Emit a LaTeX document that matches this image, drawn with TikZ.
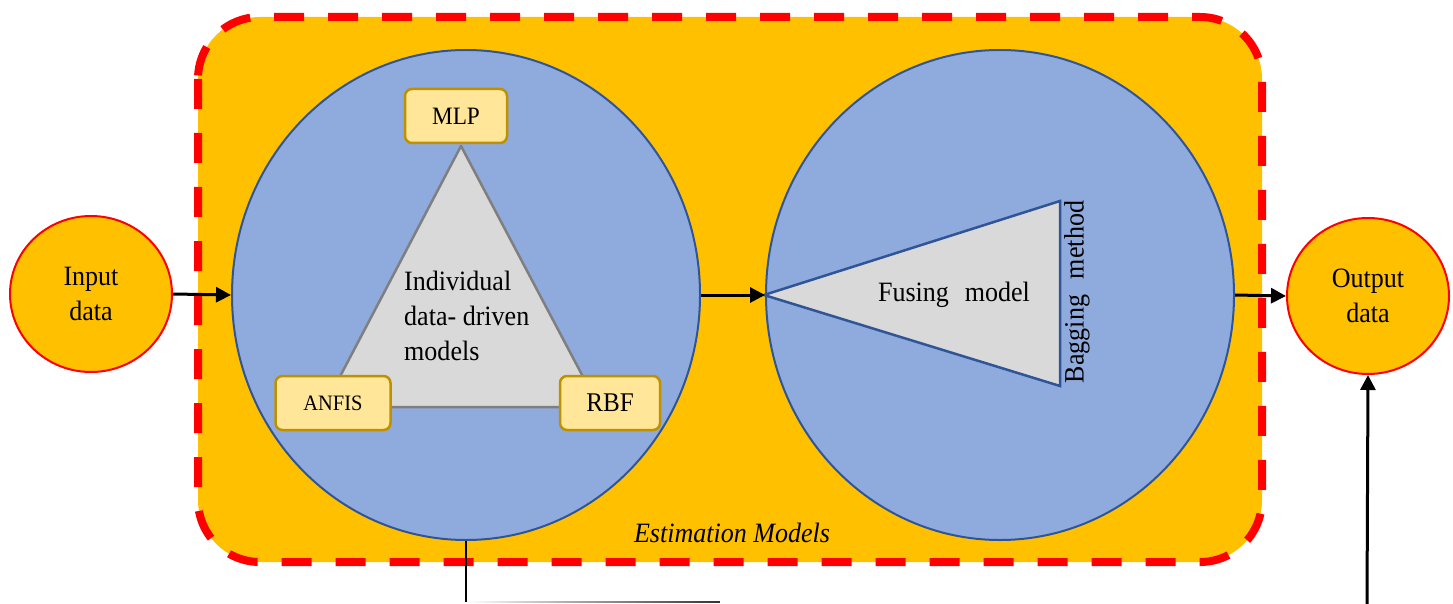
\documentclass[tikz,border=0pt]{standalone}
\usepackage{fontspec}
\setmainfont[FakeStretch=0.93]{Liberation Serif}
\usetikzlibrary{shapes.geometric,arrows.meta,fadings}
\definecolor{orng}{HTML}{FFC000}
\definecolor{blfill}{HTML}{8FAADC}
\definecolor{bledge}{HTML}{2F5597}
\definecolor{grfill}{HTML}{D9D9D9}
\definecolor{gredge}{HTML}{7F7F7F}
\definecolor{boxfill}{HTML}{FFE699}
\definecolor{boxedge}{HTML}{BF9000}
\tikzset{
  bigfont/.style={font=\fontsize{28}{35}\selectfont},
  iocircle/.style={ellipse, draw=red, fill=orng, line width=2pt, minimum width=162pt, minimum height=156pt, align=center, bigfont},
  stage/.style={ellipse, draw=bledge, fill=blfill, line width=2pt, minimum width=468pt, minimum height=490pt},
  modelbox/.style={draw=boxedge, fill=boxfill, line width=2.5pt, rounded corners=7pt, minimum height=54pt, inner sep=0pt},
  flow/.style={line width=3pt, -{Triangle[length=15pt,width=15pt]}},
  frame/.style={draw=red, fill=orng, line width=8pt, dash pattern=on 30pt off 24pt, rounded corners=62pt}
}
\begin{document}
\begin{tikzpicture}[x=1pt,y=-1pt]
\useasboundingbox (0,0) rectangle (1453,604);
% outer frame
\path[frame] (198,17) rectangle (1262,562);
\node[font=\fontsize{28}{32}\selectfont\itshape] (est) at (732,533) {Estimation Models};
% stages
\node[stage] (L) at (466,295) {};
\node[stage] (R) at (1000,295) {};
% left triangle
\coordinate (ta) at (461,146);
\coordinate (tl) at (324,407);
\coordinate (tr) at (599,407);
\draw[fill=grfill, draw=gredge, line width=2.5pt, line join=round] (ta) -- (tl) -- (tr) -- cycle;
\node[bigfont, align=left, anchor=west, inner sep=0pt] (ind) at (404,316) {Individual\\data- driven\\models};
\node[modelbox, minimum width=102pt, font=\fontsize{25}{28}\selectfont] (mlp) at (456,116) {MLP};
\node[modelbox, minimum width=115pt, font=\fontsize{22}{26}\selectfont] (anfis) at (333,403) {ANFIS};
\node[modelbox, minimum width=100pt, font=\fontsize{27}{30}\selectfont] (rbf) at (610,403) {RBF};
% right triangle
\coordinate (fa) at (764,295);
\coordinate (ft) at (1060,201);
\coordinate (fb) at (1060,386);
\draw[fill=grfill, draw=bledge, line width=2.5pt, line join=miter] (fa) -- (ft) -- (fb) -- cycle;
\node[bigfont] (fus) at (954,295) {Fusing\,\, model};
\node[bigfont, rotate=90] (bag) at (1077,292) {Bagging\,\, method};
% io
\node[iocircle] (in) at (91,294) {Input\\data};
\node[iocircle] (out) at (1368,296) {Output\\data};
% connectors
\draw[flow] (in.east) -- (L.west);
\draw[flow] (L.east) -- (R.west);
\draw[flow] (R.east) -- (out.west);
\coordinate (corner) at (466,602);
\coordinate (fadeend) at (720,602);
\coordinate (outfoot) at (1367,604);
\draw[line width=2pt] (L.south) -- (corner);
\draw[line width=2pt, black!80, path fading=west] (corner) -- (fadeend);
\draw[flow] (outfoot) -- (out.south);
\end{tikzpicture}
\end{document}
